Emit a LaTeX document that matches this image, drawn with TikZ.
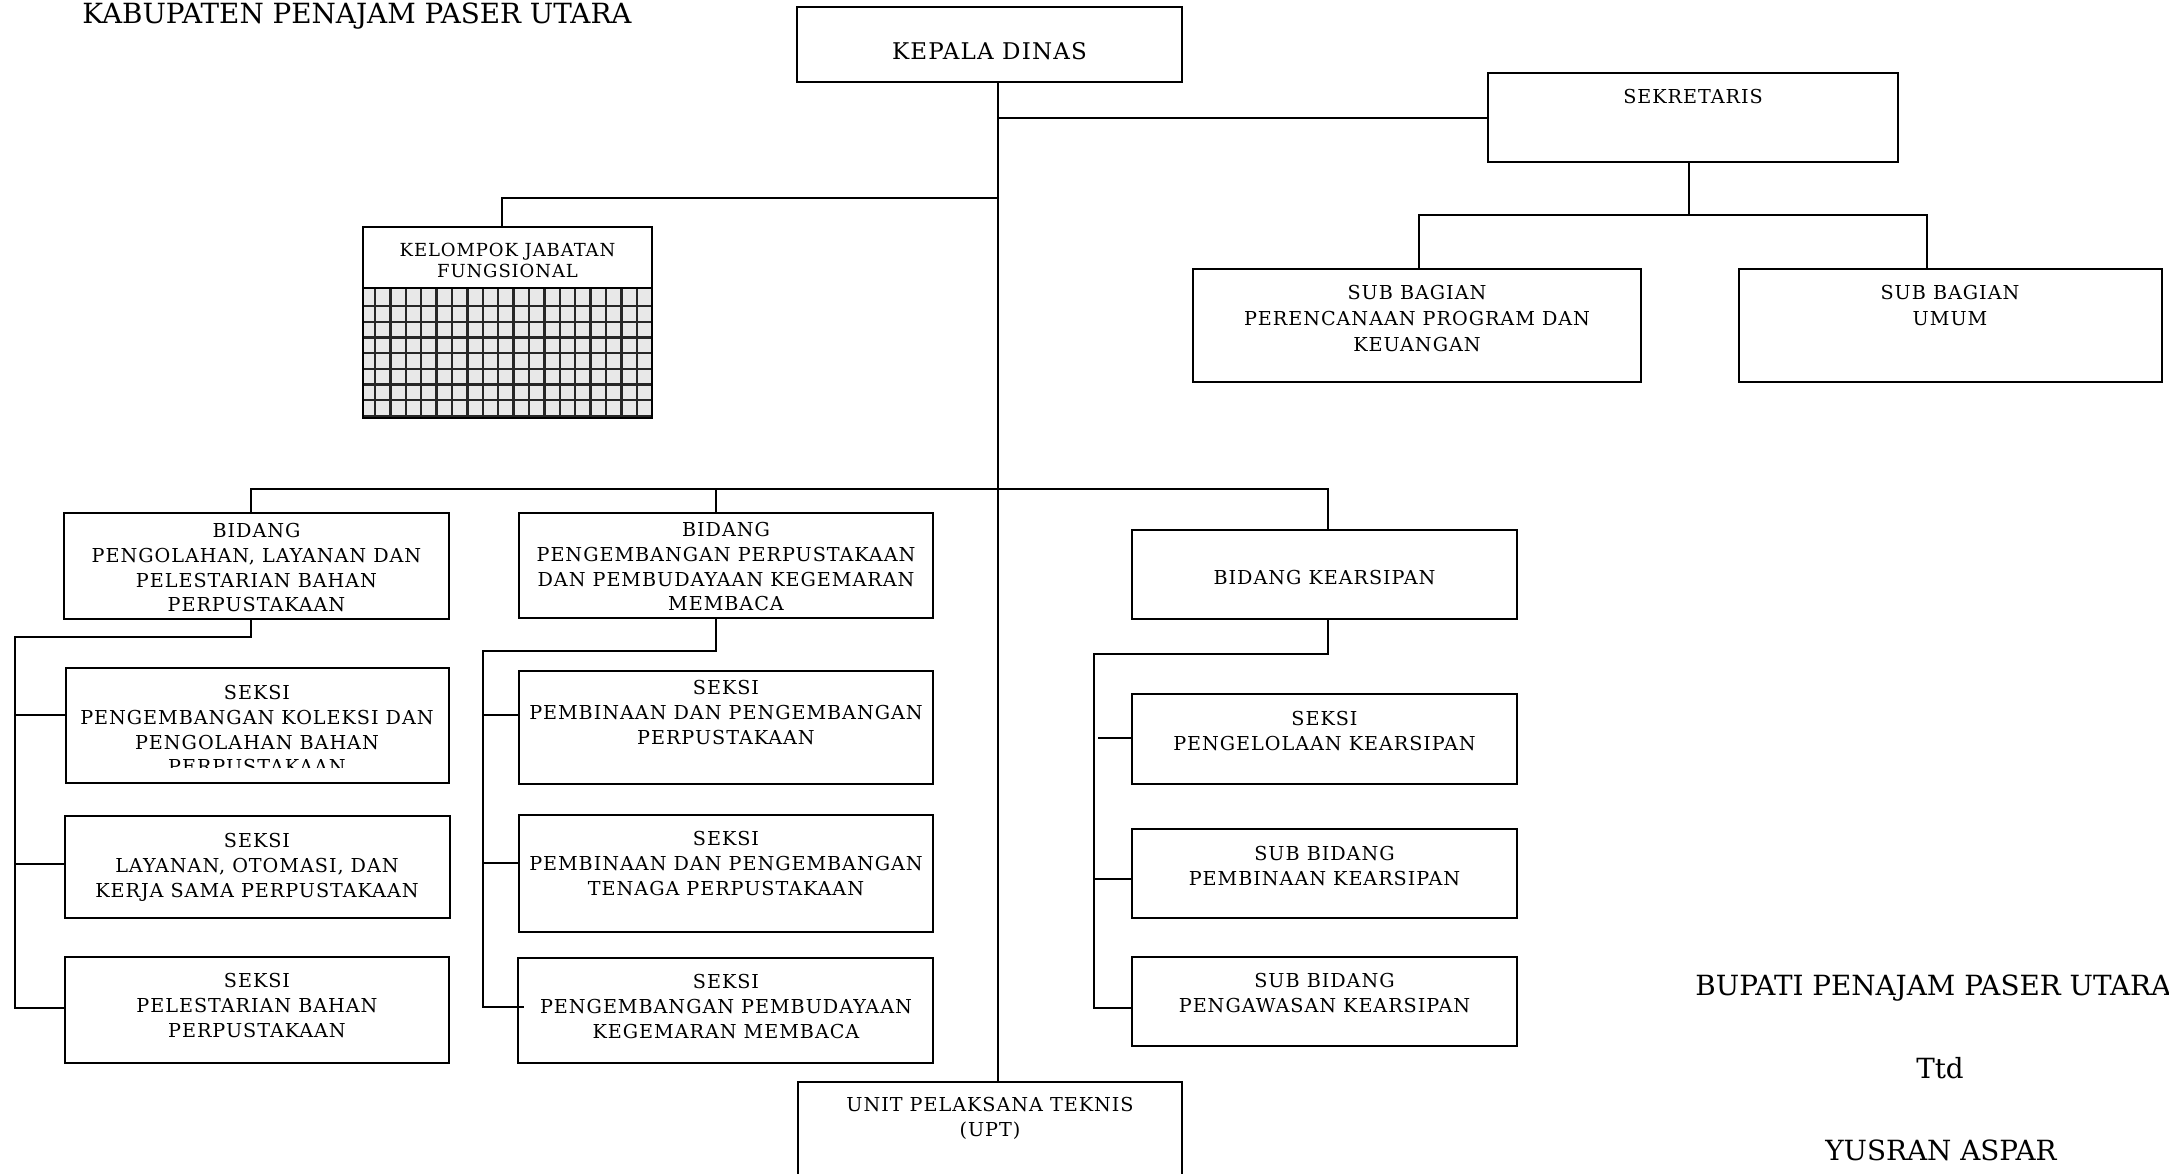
\documentclass[tikz,border=0pt]{standalone}
\usepackage{fontspec}
\setmainfont{DejaVu Serif}
\newfontfamily\bk[LetterSpace=5]{DejaVu Serif}
\usetikzlibrary{fit}
\begin{document}
\begin{tikzpicture}[x=0.5pt,y=-0.5pt,
  box/.style={draw, line width=1pt, inner sep=0pt},
  lbl/.style={anchor=north, inner sep=0pt, align=center, font=\bk\fontsize{9.6}{12.35}\selectfont},
  conn/.style={line width=1pt},
  thinl/.style={line width=0.6pt},
  gridl/.style={line width=1.15pt, black!85},
  plain/.style={inner sep=0pt, font=\fontsize{13.9}{16}\selectfont}]
\useasboundingbox (0,0) rectangle (2169,1173);
\clip (0,0) rectangle (2169,1173);

% titles
\node[plain, anchor=base west] (kab) at (82,23) {KABUPATEN PENAJAM PASER UTARA};
\node[plain, anchor=base west] (bup) at (1695,995) {BUPATI PENAJAM PASER UTARA};
\node[plain, anchor=base] (ttd) at (1940,1078) {Ttd};
\node[plain, anchor=base] (yus) at (1941,1160) {YUSRAN ASPAR};

% boxes
\node[box, fit={(797,7) (1182,82)}] (kd) {};
\node[box, fit={(1488,73) (1898,162)}] (sek) {};
\node[box, fit={(1193,269) (1641,382)}] (sbp) {};
\node[box, fit={(1739,269) (2162,382)}] (sbu) {};
\fill[gray!18] (363,288) rectangle (652,418);
\foreach \k in {0,...,17} \draw[gridl] ({375+15.4*\k},288) -- ({375+15.4*\k},418);
\foreach \j in {0,...,7} \draw[gridl] (363,{306+15.7*\j}) -- (652,{306+15.7*\j});
\node[box, fit={(363,227) (652,418)}] (kjf) {};
\draw[line width=1.4pt] (kjf.west |- 0,288) -- (kjf.east |- 0,288);
\node[box, fit={(64,513) (449,619)}] (b1) {};
\node[box, fit={(519,513) (933,618)}] (b2) {};
\node[box, fit={(1132,530) (1517,619)}] (b3) {};
\node[box, fit={(66,668) (449,783)}] (s1a) {};
\node[box, fit={(65,816) (450,918)}] (s1b) {};
\node[box, fit={(65,957) (449,1063)}] (s1c) {};
\node[box, fit={(519,671) (933,784)}] (s2a) {};
\node[box, fit={(519,815) (933,932)}] (s2b) {};
\node[box, fit={(518,958) (933,1063)}] (s2c) {};
\node[box, fit={(1132,694) (1517,784)}] (s3a) {};
\node[box, fit={(1132,829) (1517,918)}] (s3b) {};
\node[box, fit={(1132,957) (1517,1046)}] (s3c) {};
\node[box, fit={(798,1082) (1182,1210)}] (upt) {};

% texts
\node[lbl, font=\bk\fontsize{11.5}{14}\selectfont] (tkd) at (989.5,42) {KEPALA DINAS};
\node[lbl] (tsek) at (1693,89) {SEKRETARIS};
\node[lbl, font=\bk\fontsize{9.6}{12.9}\selectfont] (tsbp) at (1417,285) {SUB BAGIAN\\PERENCANAAN PROGRAM DAN\\KEUANGAN};
\node[lbl, font=\bk\fontsize{9.6}{12.9}\selectfont] (tsbu) at (1950,285) {SUB BAGIAN\\UMUM};
\node[lbl, font=\bk\fontsize{9}{10.5}\selectfont, fill=white, inner sep=0.5pt] (tkjf) at (507.5,242) {KELOMPOK JABATAN\\FUNGSIONAL};
\node[lbl] (tb1) at (256.5,523) {BIDANG\\PENGOLAHAN, LAYANAN DAN\\PELESTARIAN BAHAN\\PERPUSTAKAAN};
\node[lbl] (tb2) at (726,522) {BIDANG\\PENGEMBANGAN PERPUSTAKAAN\\DAN PEMBUDAYAAN KEGEMARAN\\MEMBACA};
\node[lbl] (tb3) at (1324.5,570) {BIDANG KEARSIPAN};
\begin{scope}
\clip (66,668) rectangle (449,767);
\node[lbl] (ts1a) at (257,685) {SEKSI\\PENGEMBANGAN KOLEKSI DAN\\PENGOLAHAN BAHAN\\PERPUSTAKAAN};
\end{scope}
\node[lbl] (ts1b) at (257,833) {SEKSI\\LAYANAN, OTOMASI, DAN\\KERJA SAMA PERPUSTAKAAN};
\node[lbl] (ts1c) at (257,973) {SEKSI\\PELESTARIAN BAHAN\\PERPUSTAKAAN};
\node[lbl] (ts2a) at (726,680) {SEKSI\\PEMBINAAN DAN PENGEMBANGAN\\PERPUSTAKAAN};
\node[lbl] (ts2b) at (726,831) {SEKSI\\PEMBINAAN DAN PENGEMBANGAN\\TENAGA PERPUSTAKAAN};
\node[lbl] (ts2c) at (726,974) {SEKSI\\PENGEMBANGAN PEMBUDAYAAN\\KEGEMARAN MEMBACA};
\node[lbl] (ts3a) at (1324.5,711) {SEKSI\\PENGELOLAAN KEARSIPAN};
\node[lbl] (ts3b) at (1324.5,846) {SUB BIDANG\\PEMBINAAN KEARSIPAN};
\node[lbl] (ts3c) at (1324.5,973) {SUB BIDANG\\PENGAWASAN KEARSIPAN};
\node[lbl] (tupt) at (990,1097) {UNIT PELAKSANA TEKNIS\\(UPT)};

% connectors
\coordinate (trunk) at (998,0);
\draw[conn] (kd.south -| trunk) -- (upt.north -| trunk);
\draw[conn] (trunk |- sek.west) -- (sek.west);
\coordinate (kj) at (502,198);
\draw[conn] (trunk |- kj) -- (kj) -- (kj |- kjf.north);
\coordinate (sj) at (1689,215);
\coordinate (sl) at (1419,215);
\coordinate (sr) at (1927,215);
\draw[thinl] (sek.south -| sj) -- (sj);
\draw[thinl] (sbp.north -| sl) -- (sl) -- (sr) -- (sbu.north -| sr);
\coordinate (bl) at (251,489);
\coordinate (bm) at (716,489);
\coordinate (br) at (1328,489);
\draw[conn] (b1.north -| bl) -- (bl) -- (br) -- (b3.north -| br);
\draw[conn] (bm) -- (b2.north -| bm);
% left group
\coordinate (g1) at (15,637);
\coordinate (g1e) at (15,1008);
\draw[conn] (b1.south -| bl) |- (g1) -- (g1e) -- (s1c.west |- g1e);
\draw[conn] (g1 |- 0,715) -- (s1a.west |- 0,715);
\draw[conn] (g1 |- 0,864) -- (s1b.west |- 0,864);
% middle group
\coordinate (g2) at (483,651);
\coordinate (g2e) at (483,1007);
\draw[conn] (b2.south -| bm) |- (g2) -- (g2e) -- ([xshift=3.5pt]s2c.west |- g2e);
\draw[conn] (g2 |- 0,715) -- (s2a.west |- 0,715);
\draw[conn] (g2 |- 0,863) -- (s2b.west |- 0,863);
% right group
\coordinate (g3) at (1094,654);
\coordinate (g3e) at (1094,1008);
\draw[conn] (b3.south -| br) |- (g3) -- (g3e) -- (s3c.west |- g3e);
\draw[conn] (1098,738) -- (s3a.west |- 0,738);
\draw[conn] (g3 |- 0,879) -- (s3b.west |- 0,879);
\end{tikzpicture}
\end{document}
